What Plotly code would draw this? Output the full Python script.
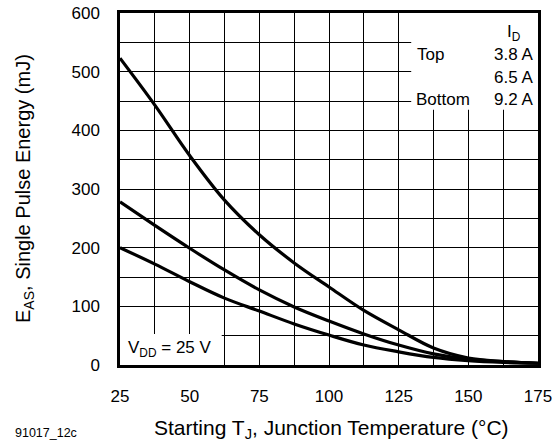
import plotly.graph_objects as go

temps = [25, 37.5, 50, 62.5, 75, 87.5, 100, 112.5, 125, 137.5, 150, 162.5, 175]
e_top = [523, 443, 357, 281, 222, 174, 133, 93, 60, 29, 12, 6, 3]      # 3.8 A
e_mid = [278, 238, 199, 162, 128, 99, 75, 53, 34, 19, 10, 6, 3]       # 6.5 A
e_bot = [200, 172, 142, 114, 92, 70, 51, 34, 22.5, 13, 7.5, 4.5, 3]   # 9.2 A

x_ticks = [25, 50, 75, 100, 125, 150, 175]
y_ticks = [0, 100, 200, 300, 400, 500, 600]

FONT = "Liberation Sans, Arial, Helvetica, sans-serif"

fig = go.Figure()
for ys in (e_top, e_mid, e_bot):
    fig.add_trace(go.Scatter(x=temps, y=ys, mode="lines",
                             line=dict(color="black", width=3.2, shape="spline", smoothing=1.0),
                             showlegend=False, hoverinfo="skip"))

fig.update_layout(
    width=553, height=442,
    margin=dict(l=120, r=15, t=13, b=77),
    paper_bgcolor="white", plot_bgcolor="white",
    font=dict(family=FONT, color="black", size=17),
    xaxis=dict(range=[25, 175], tickvals=x_ticks, showgrid=True, gridcolor="black", gridwidth=1,
               minor=dict(dtick=12.5, tick0=25, showgrid=True, gridcolor="black", gridwidth=1),
               showline=True, linecolor="black", linewidth=2.5, mirror=True, ticks="", zeroline=False,
               tickfont=dict(size=17), ticklabelstandoff=14, automargin=False, ticklabeloverflow="allow"),
    yaxis=dict(range=[0, 600], tickvals=y_ticks, showgrid=True, gridcolor="black", gridwidth=1,
               minor=dict(dtick=50, tick0=0, showgrid=True, gridcolor="black", gridwidth=1),
               showline=True, linecolor="black", linewidth=2.5, mirror=True, ticks="", zeroline=False,
               tickfont=dict(size=17), ticklabelstandoff=14, automargin=False, ticklabeloverflow="allow"),
)

# white boxes covering the grid
fig.add_shape(type="rect", xref="x", yref="y", x0=129.5, x1=175, y0=435, y1=600,
              fillcolor="white", line=dict(width=0), layer="between")
fig.add_shape(type="rect", xref="x", yref="y", x0=25, x1=61.5, y0=0, y1=53,
              fillcolor="white", line=dict(width=0), layer="between")

ann = [
    dict(x=169.5, y=566, text="I<sub>D</sub>", xanchor="right"),
    dict(x=131, y=530, text="Top", xanchor="left"),
    dict(x=174, y=530, text="3.8 A", xanchor="right"),
    dict(x=174, y=490, text="6.5 A", xanchor="right"),
    dict(x=130.6, y=452, text="Bottom", xanchor="left"),
    dict(x=174, y=452, text="9.2 A", xanchor="right"),
    dict(x=27.3, y=27, text="V<sub>DD</sub> = 25 V", xanchor="left"),
]
for a in ann:
    fig.add_annotation(xref="x", yref="y", showarrow=False, yanchor="middle",
                       font=dict(size=17, family=FONT, color="black"), **a)

# axis titles
fig.add_annotation(xref="paper", yref="paper", x=0.5, y=0, xshift=2, yshift=-64,
                   text="Starting T<sub>J</sub>, Junction Temperature (°C)", showarrow=False,
                   xanchor="center", yanchor="middle", font=dict(size=21, family=FONT, color="black"))
fig.add_annotation(xref="paper", yref="paper", x=0, y=0.5, xshift=-96, yshift=0, textangle=-90,
                   text="E<sub>AS</sub>, Single Pulse Energy (mJ)", showarrow=False,
                   xanchor="center", yanchor="middle", font=dict(size=20, family=FONT, color="black"))

fig.add_annotation(xref="paper", yref="paper", x=0, y=0, xshift=-107, yshift=-68, text="91017_12c",
                   showarrow=False, xanchor="left", yanchor="middle",
                   font=dict(size=12.5, family=FONT, color="black"))

fig.write_html("out.html", config={"displayModeBar": False},
               post_script="document.body.style.margin='0';document.body.style.overflow='hidden';")
